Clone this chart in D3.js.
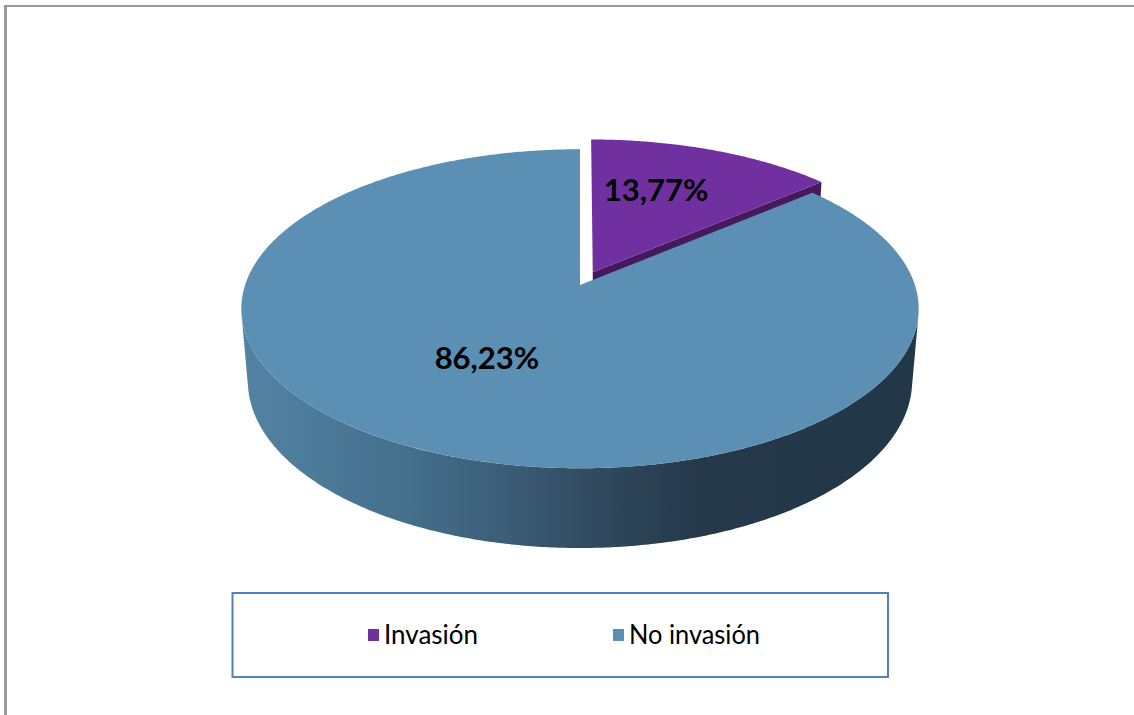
<!DOCTYPE html>
<html>
<head>
<meta charset="utf-8">
<script src="https://cdn.jsdelivr.net/npm/d3@7"></script>
<style>
  html, body { margin: 0; padding: 0; background: #ffffff; }
  svg { display: block; }
</style>
</head>
<body>
<script>
// ---------------- data ----------------
const categories = ["Invasión", "No invasión"];
const values = [13.77, 86.23];
const valueLabels = ["13,77%", "86,23%"];
const topColors = ["#7030a0", "#5b8fb4"];
const sideColors = ["#46195f", "#3a5a73"];
const explodeAmount = [0.092, 0];

// ---------------- layout / styling ----------------
const W = 1134, H = 715;
const cam = { X0: 580, Y0: 285, F: 1990, D: 5.942, s: 0.4657 };
cam.c = Math.sqrt(1 - cam.s * cam.s);
const thickness = 0.2461;
const labelTweak = [ { da: -5 * Math.PI / 180, r: 0.624 }, { da: 5.9 * Math.PI / 180, r: 0.509 } ];

const svg = d3.select("body").append("svg").attr("width", W).attr("height", H);

// outer frame (only top & left visible)
svg.append("line").attr("x1", 5.5).attr("y1", 5).attr("x2", 5.5).attr("y2", H)
  .attr("stroke", "#9a9a9a").attr("stroke-width", 3);
svg.append("line").attr("x1", 4).attr("y1", 6).attr("x2", W).attr("y2", 6)
  .attr("stroke", "#9a9a9a").attr("stroke-width", 2);

// gradient for the blue side wall
const defs = svg.append("defs");
const grad = defs.append("linearGradient").attr("id", "wallGrad")
  .attr("gradientUnits", "userSpaceOnUse").attr("x1", 241).attr("y1", 0).attr("x2", 918).attr("y2", 0);
[[0, "#5383a3"], [0.235, "#45708e"], [0.383, "#3c5e78"], [0.53, "#30495e"], [0.678, "#25394a"], [1, "#223747"]]
  .forEach(([o, c]) => grad.append("stop").attr("offset", o).attr("stop-color", c));
const wallFills = ["#46195f", "url(#wallGrad)"];

function proj(x, y, z) {
  const yc = y * cam.c + z * cam.s;
  const zc = cam.D + z * cam.c - y * cam.s;
  return [cam.X0 + cam.F * x / zc, cam.Y0 - cam.F * yc / zc];
}
const camPos = [0, cam.D * cam.s, -cam.D * cam.c];

const pieData = d3.pie().sort(null).value(d => d)(values);
const line = d3.line();

function angles(a0, a1) {
  const n = Math.max(2, Math.ceil((a1 - a0) / (Math.PI / 360)));
  return d3.range(n + 1).map(i => a0 + (a1 - a0) * i / n);
}

const slices = pieData.map((p, i) => {
  const mid = (p.startAngle + p.endAngle) / 2;
  const off = { x: explodeAmount[i] * Math.sin(mid), z: explodeAmount[i] * Math.cos(mid) };
  return { p, i, mid, off };
});
// painter's order: farthest first
slices.sort((a, b) => (b.off.z + 0.5 * Math.cos(b.mid)) - (a.off.z + 0.5 * Math.cos(a.mid)));

const g = svg.append("g");
slices.forEach(sl => {
  const { p, i, off } = sl;
  const a0 = p.startAngle, a1 = p.endAngle;
  const rim = (t, y) => proj(off.x + Math.sin(t), y, off.z + Math.cos(t));
  const ctr = y => proj(off.x, y, off.z);
  const h = -thickness;

  // radial faces with back-face culling
  [[a0, [-Math.cos(a0), Math.sin(a0)]], [a1, [Math.cos(a1), -Math.sin(a1)]]].forEach(([a, n]) => {
    const px = off.x + 0.5 * Math.sin(a), pz = off.z + 0.5 * Math.cos(a);
    const dot = n[0] * (camPos[0] - px) + n[1] * (camPos[2] - pz);
    if (dot > 0.05) {
      g.append("path")
        .attr("d", line([ctr(0), rim(a, 0), rim(a, h), ctr(h)]) + "Z")
        .attr("fill", sideColors[i]);
    }
  });

  // outer wall (visible range only)
  const thr = Math.acos(-1 / (cam.D * cam.c));
  const v0 = Math.max(a0, thr), v1 = Math.min(a1, 2 * Math.PI - thr);
  if (v1 > v0) {
    const ts = angles(v0, v1);
    const pts = ts.map(t => rim(t, 0)).concat(ts.slice().reverse().map(t => rim(t, h)));
    g.append("path").attr("d", line(pts) + "Z").attr("fill", wallFills[i]);
  }

  // top face
  const topPts = [ctr(0)].concat(angles(a0, a1).map(t => rim(t, 0)));
  g.append("path").attr("d", line(topPts) + "Z").attr("fill", topColors[i]);
});

// value labels
slices.forEach(sl => {
  const { i, mid, off } = sl;
  const a = mid + labelTweak[i].da, r = labelTweak[i].r;
  const [lx, ly] = proj(off.x + r * Math.sin(a), 0, off.z + r * Math.cos(a));
  svg.append("text")
    .attr("x", lx).attr("y", ly + 11)
    .attr("text-anchor", "middle")
    .attr("font-family", "'Century Gothic', Lato, sans-serif")
    .attr("font-weight", 700)
    .attr("font-size", 31)
    .attr("fill", "#000")
    .text(valueLabels[i]);
});

// legend
const legend = svg.append("g");
legend.append("rect").attr("x", 232.5).attr("y", 593).attr("width", 655.5).attr("height", 84)
  .attr("fill", "none").attr("stroke", "#4f81bd").attr("stroke-width", 2);
const legX = [368, 613];
const legTextW = [94, 131];
categories.forEach((c, i) => {
  legend.append("rect").attr("x", legX[i]).attr("y", 629).attr("width", 11).attr("height", 12)
    .attr("fill", topColors[i]);
  legend.append("text").attr("x", legX[i] + 16).attr("y", 644)
    .attr("font-family", "'Century Gothic', Lato, sans-serif")
    .attr("font-size", 26)
    .attr("fill", "#000")
    .attr("textLength", legTextW[i])
    .attr("lengthAdjust", "spacingAndGlyphs")
    .text(c);
});
</script>
</body>
</html>
